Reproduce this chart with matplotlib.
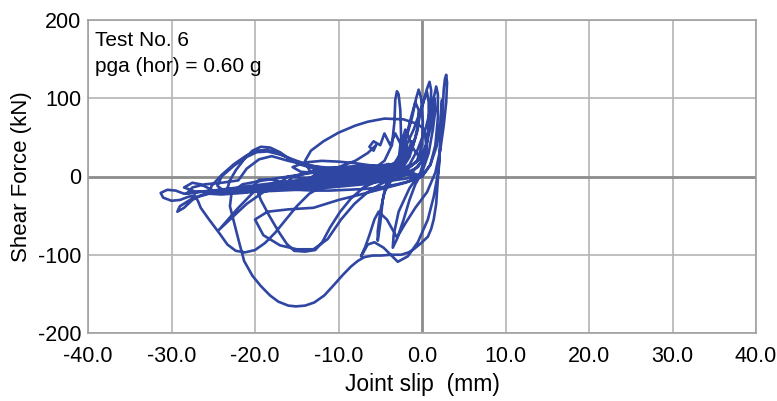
import numpy as np
import matplotlib.pyplot as plt

# hysteresis record, split into phases (slip mm, force kN)
slip_0 = [0, -2, -4, -6, -8, -10, -12, -14, -15.5, -14.5, -12, -9, -6, -4, -2.5, -1.5, -2.5, -4.5, -7, -9.5,
          -12, -13.5, -12, -9, -6, -4, -3, -2, -1, 0]
force_0 = [0, 5, 10, 14, 17, 19, 20, 18, 12, 6, 4, 6, 10, 14, 20, 30, 18, 14, 14, 12,
           10, 6, 2, 4, 8, 12, 16, 10, 4, 0]

slip_1 = [0, -1.5, -3.5, -6, -8.5, -10.5, -11.5, -10.5, -8, -5, -3, -1.5, -0.5, 0.2, 0.5, 0.3, -0.5, -2, -4, -7,
          -10, -12.5, -13.5, -12.5, -10, -7, -4.5, -3, -2.2, -1.8, -2.0, -2.8, -4, -6, -9, -12, -14.5, -16, -15.5,
          -13.5, -10.5, -7.5, -5, -3.5]
force_1 = [0, -2, -5, -7, -8, -6, -1, 4, 6, 6, 8, 12, 20, 30, 38, 25, 12, 4, -1, -4,
           -6, -6, -2, 3, 6, 7, 8, 14, 25, 35, 22, 10, 3, -2, -6, -9, -10, -6, 0,
           5, 8, 8, 7, 10]

slip_2 = [-2.8, -2.5, -2.6, -2.8, -3.0, -3.2, -3.3, -3.6, -4.5, -6, -8, -10, -13, -16, -19, -21, -22.5, -23.3,
          -23, -22.3, -21.3, -20.3, -19.3, -18.2, -17, -15.8, -14.5, -12.5, -10, -7.5, -5.5, -4,
          -3, -2, -1.2, -0.7, -0.4, -0.1, 0.1, 0, -0.6, -2, -4, -7, -10, -14, -18, -21.5, -24, -25.5, -25.2,
          -24, -22.5, -21, -19.8, -18.5, -17, -15.5, -13.8, -11.5, -9, -6.5, -4.5]
force_2 = [20, 50, 85, 105, 109, 98, 70, 40, 20, 8, 2, -2, -6, -10, -14, -17, -19, -15,
           -5, 8, 22, 33, 38, 37, 31, 22, 15, 9, 5, 3, 4, 8,
           20, 45, 75, 100, 111, 100, 70, 40, 20, 8, 0, -4, -8, -12, -17, -21, -23, -22, -12,
           2, 16, 27, 33, 34, 29, 21, 14, 9, 6, 6, 8]

slip_3 = [-3.5, -2.5, -1.8, -1.2, -0.8, -0.4, -0.5, -1.2, -2.5, -4.5, -7, -10, -13, -16.5, -20, -23.5, -26.5,
          -28.5, -29.5, -30.5, -31.3, -31, -30, -29, -28, -27.2, -26.8, -26.5, -25.5, -24.3, -23.3, -22.3,
          -21.2, -20, -18.8, -17.6, -16.3, -15, -13.5, -11.5, -9, -6.5, -4.5]
force_3 = [14, 30, 55, 80, 95, 85, 60, 35, 15, 3, -3, -8, -12, -15, -17, -18, -19,
           -22, -18, -17, -21, -27, -31, -30, -26, -24, -32, -40, -55, -72, -87, -95,
           -97, -94, -85, -72, -55, -38, -22, -10, -3, 2, 6]

slip_4 = [-3.5, -2.3, -1, 0, 0.6, 0.9, 1.1, 1.0, 0.6, 0, -1.2, -3.5, -7, -11, -15, -19, -22.5, -25.5, -27.5,
          -29, -29.3, -28.5, -27.5, -26.5, -25, -23, -21, -19, -16, -13, -10, -7, -5,
          -3.5, -2.5, -1.8, -2.3, -3.5, -6, -9, -12, -15, -18, -20, -22, -24.3, -23, -21, -19, -16, -13.5,
          -11, -8, -5.5, -4]
force_4 = [12, 30, 60, 90, 112, 121, 110, 80, 45, 20, 5, -4, -10, -14, -17, -19, -20, -22, -28,
           -38, -45, -40, -30, -24, -19, -17, -15, -12, -8, -4, -1, 2, 5,
           10, 22, 40, 20, 8, -2, -6, -9, -12, -14, -18, -40, -68, -55, -35, -20, -10, -2,
           5, 10, 12, 16]

slip_5 = [-3.5, -2, -1.2, -1.6, -3, -5.5, -8.5, -11.5, -14.5, -16.5, -18, -19.5, -20, -19.3, -18.3, -17.2,
          -16.2, -15.3, -14, -12.8, -12, -11, -9.8, -8.5, -7, -5, -3, -1.5, -0.5, 0.4, 1.0, 1.5, 1.7,
          1.9, 1.9, 1.6, 1.0, 0, -2, -4.5, -7, -10, -13, -16, -18.5, -20, -19, -17, -15, -13, -11.3, -9.7,
          -8.1, -6.5, -5, -3.5]
force_5 = [10, 25, 45, 25, 8, -2, -8, -12, -12, -8, -4, -4, -10, -30, -50, -70,
           -86, -95, -96, -94, -85, -65, -45, -28, -14, -4, 4, 15, 35, 60, 85, 105, 115,
           105, 75, 40, 15, 0, -8, -15, -22, -30, -40, -42, -45, -55, -75, -88, -93, -93, -80, -55,
           -35, -20, -10, -2]

slip_6 = [-4.5, -5, -5.3, -5.3, -5.0, -4.7, -4.3, -3.5, -2.5, -1.5, -0.8, -0.2, 0.3, 0.6, 0.8, 0.8, 0.5,
          -0.2, -1.5, -2.8, -3.4, -3.5, -3.0, -2.2, -1.5, -0.8, 0, 0.8, 1.3, 1.6, 1.5, 1.2, 0.5, -0.5,
          -2, -4, -6.5, -9.5, -12, -13.5, -14, -13.3, -11.8, -10, -8, -6.5, -4.5, -2.2, -0.5, 0.3, 0.5, 0,
          -1, -2, -2.5, -3.2, -3.8, -4.5, -5, -5.8, -6.3, -5.8, -5.5, -6.5, -8, -10, -13]
force_6 = [-20, -45, -70, -82, -60, -30, -10, 0, 8, 25, 50, 80, 100, 108, 95, 65, 30,
           5, -15, -45, -75, -91, -80, -55, -30, -10, 5, 30, 60, 85, 100, 70, 40, 20,
           8, 0, -6, -8, -2, 8, 20, 33, 45, 56, 65, 70, 74, 73, 67, 60, 40, 20,
           35, 60, 40, 55, 40, 55, 40, 45, 38, 33, 40, 30, 20, 12, 5]

slip_7 = [-16, -18, -21, -23.5, -24.5, -24, -22.5, -21, -19.8, -18.5, -17, -15, -13, -10.5, -8, -5.5, -3.5,
          -2.5, -2, -2.8, -4.5, -7, -10, -13, -16, -19, -22, -25, -27, -28.2, -27.5, -26, -24, -22, -21,
          -19.5, -18, -16, -14, -12, -9.5, -7, -4.5, -3, -5, -8, -11, -14]
force_7 = [0, -15, -18, -20, -12, 0, 14, 25, 31, 32, 28, 20, 13, 8, 6, 5, 8,
           18, 30, 15, 6, 0, -3, -6, -9, -12, -15, -18, -20, -22, -14, -10, -8, -5, 10,
           22, 26, 20, 15, 12, 10, 9, 10, 12, 6, 2, 0, -2]

slip_8 = [-16, -19, -21.5, -22.8, -23, -22.6, -22, -21.3, -20.3, -19.3, -18.2, -17.2, -16, -15.1, -14,
          -12.9, -11.7, -10.5, -9.5, -8.5, -7.7, -6.9, -5.9, -4.9, -3.7, -2.5, -1.6, -1, -0.2, 0.7, 1.1,
          1.4, 1.7, 1.9, 2.1, 2.3, 2.5, 2.6, 2.75, 2.9, 3.0, 2.9, 2.6, 2.2, 1.6, 0.6, -0.8, -2, -3,
          -4.2, -5.2, -5.7, -6.3, -6.8, -7.3, -6.5, -5.7, -4.6, -2.9, -1.7, -0.5, 0.7, 1.4, 2.0, 2.3,
          2.4, 2.2, 1.8, 1.0, 0, -1.5, -3, -5, -7, -9, -11, -13, -15, -17, -19, -21, -22.5, -24, -25,
          -26.5, -27.5, -28.5, -27, -25, -22, -19, -16, -13, -10, -7, -4, -2, 0]
force_8 = [0, -5, -10, -20, -38, -55, -80, -108, -127, -140, -152, -160, -165, -166, -165,
           -161, -152, -138, -126, -115, -108, -103, -101, -101, -100, -100, -97, -93, -86, -77, -67,
           -55, -35, -4, 25, 60, 90, 111, 125, 130, 120, 95, 65, 35, 5, -20, -40, -60, -78,
           -55, -45, -55, -75, -90, -102, -87, -84, -91, -109, -102, -84, -55, -26, 9, 60,
           98, 70, 40, 15, 0, -6, -10, -14, -16, -17, -18, -18, -17, -16, -15, -15, -17, -20, -18,
           -10, -8, -14, -20, -18, -14, -10, -6, -3, 0, 2, 3, 2, 0]

phases = [(slip_0, force_0), (slip_1, force_1), (slip_2, force_2), (slip_3, force_3), (slip_4, force_4),
          (slip_5, force_5), (slip_6, force_6), (slip_7, force_7), (slip_8, force_8)]

slip = np.concatenate([s for s, f in phases])
force = np.concatenate([f for s, f in phases])

x_ticks = [-40, -30, -20, -10, 0, 10, 20, 30, 40]
y_ticks = [-200, -100, 0, 100, 200]

plt.rcParams['font.family'] = ['Liberation Sans', 'DejaVu Sans']

fig = plt.figure(figsize=(7.77, 4.01), dpi=100)
ax = fig.add_axes([88 / 777, 1 - 333 / 401, (756 - 88) / 777, (333 - 20) / 401])

for xv in x_ticks:
    ax.axvline(xv, color='#8c8c8c' if xv == 0 else '#b4b4b4', lw=2.0 if xv == 0 else 1.2, zorder=1)
for yv in y_ticks:
    ax.axhline(yv, color='#8c8c8c' if yv == 0 else '#b4b4b4', lw=2.0 if yv == 0 else 1.2, zorder=1)

ax.plot(slip, force, color='#2f46a2', lw=1.9, solid_joinstyle='round', zorder=3)

ax.set_xlim(-40, 40)
ax.set_ylim(-200, 200)
ax.set_xticks(x_ticks)
ax.set_xticklabels(['%.1f' % v for v in x_ticks], fontsize=15.5)
ax.set_yticks(y_ticks)
ax.set_yticklabels([str(v) for v in y_ticks], fontsize=15.5)
ax.tick_params(axis='x', length=0, pad=9)
ax.tick_params(axis='y', length=0, pad=5)
for sp in ax.spines.values():
    sp.set_color('#a0a0a0')
    sp.set_linewidth(1.2)

ax.set_xlabel('Joint slip  (mm)', fontsize=16.5)
ax.set_ylabel('Shear Force (kN)', fontsize=16)
ax.xaxis.set_label_coords(0.5, -(384 - 333) / 313, transform=ax.transAxes)
ax.yaxis.set_label_coords(-(88 - 22) / 668, 0.5, transform=ax.transAxes)
ax.xaxis.label.set_va('center')
ax.yaxis.label.set_va('center')

ax.text(0.011, 0.965, 'Test No. 6\npga (hor) = 0.60 g', transform=ax.transAxes,
        fontsize=15, va='top', ha='left', linespacing=1.5)

fig.savefig('out.png', dpi=100)
